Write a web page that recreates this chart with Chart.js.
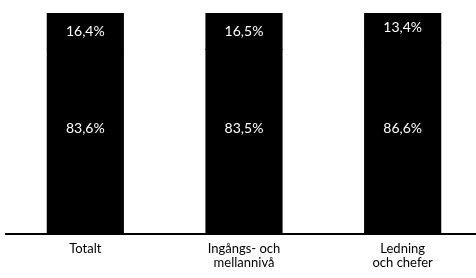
<!DOCTYPE html>
<html>

<head>
    <meta charset="utf-8">
    <script src="https://cdn.jsdelivr.net/npm/chart.js"></script>
    <style>
        html,
        body {
            margin: 0px;
            overflow: hidden;
            background: #fff;
        }

        .container {
            width: 482px;
            height: 278px;
        }
    </style>
</head>

<body>
    <div class="container">
        <canvas id="myChart"></canvas>
    </div>

    <script>
        const categories = [
            'Totalt',
            ['Ingångs- och', 'mellannivå'],
            ['Ledning', 'och chefer']
        ];
        const lowerValues = [83.6, 83.5, 86.6];
        const upperValues = [16.4, 16.5, 13.4];
        const fontFamily = 'Lato, "DejaVu Sans", sans-serif';

        const fmt = v => v.toFixed(1).replace('.', ',') + '%';

        // white value labels inside the bars
        const valueLabels = {
            id: 'valueLabels',
            afterDatasetsDraw(chart) {
                const ctx = chart.ctx;
                const yScale = chart.scales.y;
                ctx.save();
                ctx.fillStyle = '#fff';
                ctx.font = '14px ' + fontFamily;
                ctx.textAlign = 'center';
                ctx.textBaseline = 'middle';
                chart.getDatasetMeta(0).data.forEach((bar, i) => {
                    ctx.fillText(fmt(lowerValues[i]), bar.x, yScale.getPixelForValue(47.5));
                });
                chart.getDatasetMeta(1).data.forEach((bar, i) => {
                    ctx.fillText(fmt(upperValues[i]), bar.x, (bar.y + bar.base) / 2);
                });
                ctx.restore();
            }
        };

        var context = document.getElementById('myChart').getContext('2d');
        var chart = new Chart(context, {
            type: 'bar',
            data: {
                labels: categories,
                datasets: [
                    {
                        label: 'lower',
                        data: lowerValues,
                        backgroundColor: '#000',
                        inflateAmount: 0.5,
                        barPercentage: 0.48,
                        categoryPercentage: 1
                    },
                    {
                        label: 'upper',
                        data: upperValues,
                        backgroundColor: '#000',
                        inflateAmount: 0.5,
                        barPercentage: 0.48,
                        categoryPercentage: 1
                    }
                ]
            },
            options: {
                responsive: true,
                maintainAspectRatio: false,
                animation: false,
                layout: {
                    padding: { left: 6, top: 13, right: 0, bottom: 0 }
                },
                plugins: {
                    legend: { display: false },
                    tooltip: { enabled: false }
                },
                scales: {
                    x: {
                        stacked: true,
                        grid: { display: false, drawTicks: false },
                        border: { display: true, color: '#000', width: 2 },
                        ticks: {
                            color: '#000',
                            padding: 8,
                            maxRotation: 0,
                            autoSkip: false,
                            font: { family: fontFamily, size: 13, lineHeight: 1.08 }
                        }
                    },
                    y: {
                        stacked: true,
                        display: false,
                        min: 0,
                        max: 100
                    }
                }
            },
            plugins: [valueLabels]
        });
    </script>
</body>

</html>
